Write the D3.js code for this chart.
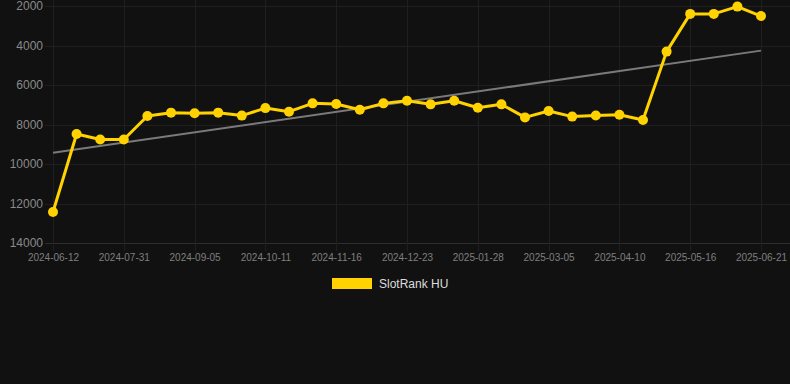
<!DOCTYPE html>
<html lang="en">
    <head>
        <meta charset="utf-8">
        <style>
            html, body {
                margin: 0;
                padding: 0;
                background: #111111;
            }
            svg {
                display: block;
                font-family: Arial, "Liberation Sans", sans-serif;
            }
        </style>
    </head>
    <body>
        <div id="chart"></div>
        <script src="https://d3js.org/d3.v7.min.js"></script>
        <script type="text/javascript" charset="utf-8">
            var dates = ["2024-06-12", "2024-06-28", "2024-07-14", "2024-07-31", "2024-08-12", "2024-08-24",
                "2024-09-05", "2024-09-17", "2024-09-29", "2024-10-11", "2024-10-23", "2024-11-04",
                "2024-11-16", "2024-11-28", "2024-12-11", "2024-12-23", "2025-01-04", "2025-01-16",
                "2025-01-28", "2025-02-09", "2025-02-21", "2025-03-05", "2025-03-17", "2025-03-29",
                "2025-04-10", "2025-04-22", "2025-05-04", "2025-05-16", "2025-05-28", "2025-06-09",
                "2025-06-21"];
            var ranks = [12430, 8480, 8760, 8760, 7570, 7400, 7430, 7400, 7550, 7170,
                7350, 6930, 6960, 7250, 6930, 6800, 6980, 6800, 7150, 6980,
                7640, 7320, 7600, 7540, 7510, 7770, 4310, 2400, 2400, 2030, 2510];
            var trend = [9430, 4260];
            var yTicks = [2000, 4000, 6000, 8000, 10000, 12000, 14000];
            var seriesName = "SlotRank HU";

            var width = 790, height = 384;
            var plotLeft = 53, plotRight = 761, plotTop = 6, plotBottom = 243;

            var svg = d3.select("#chart").append("svg")
                .attr("width", width)
                .attr("height", height);

            var x = d3.scalePoint().domain(dates).range([plotLeft, plotRight]);
            var y = d3.scaleLinear().domain([2000, 14000]).range([plotTop, plotBottom]);

            var shown = dates.filter(function(d, i) { return i % 3 === 0; });

            // grid
            svg.append("g")
                .selectAll("line")
                .data(yTicks).enter()
                .append("line")
                .attr("x1", plotLeft - 8).attr("x2", plotRight + 29)
                .attr("y1", function(d) { return Math.round(y(d)) + 0.5; })
                .attr("y2", function(d) { return Math.round(y(d)) + 0.5; })
                .attr("stroke", function(d) { return d === 14000 ? "#2e2e2e" : "#1f1f1f"; })
                .attr("stroke-width", 1);

            svg.append("g")
                .selectAll("line")
                .data(shown).enter()
                .append("line")
                .attr("x1", function(d) { return Math.round(x(d)) + 0.5; })
                .attr("x2", function(d) { return Math.round(x(d)) + 0.5; })
                .attr("y1", 0).attr("y2", plotBottom + 8)
                .attr("stroke", "#1f1f1f")
                .attr("stroke-width", 1);

            // y axis labels
            var yAxis = svg.append("g")
                .attr("transform", "translate(" + (plotLeft - 10) + ",0)")
                .call(d3.axisLeft(y).tickValues(yTicks).tickSize(0).tickPadding(0).tickFormat(d3.format("d")));
            yAxis.select(".domain").remove();
            yAxis.selectAll("text")
                .attr("fill", "#8a8a8a")
                .attr("font-size", "12px")
                .attr("font-family", "Arial, 'Liberation Sans', sans-serif");

            // x axis labels
            var xAxis = svg.append("g")
                .attr("transform", "translate(0," + (plotBottom + 9) + ")")
                .call(d3.axisBottom(x).tickValues(shown).tickSize(0).tickPadding(2));
            xAxis.select(".domain").remove();
            xAxis.selectAll("text")
                .attr("fill", "#7f7f7f")
                .attr("font-size", "10px")
                .attr("font-family", "Arial, 'Liberation Sans', sans-serif");

            // trend
            svg.append("line")
                .attr("x1", x(dates[0])).attr("y1", y(trend[0]))
                .attr("x2", x(dates[dates.length - 1])).attr("y2", y(trend[1]))
                .attr("stroke", "#7a7a7a")
                .attr("stroke-width", 2);

            // series
            var line = d3.line()
                .x(function(d, i) { return x(dates[i]); })
                .y(function(d) { return y(d); });

            svg.append("path")
                .datum(ranks)
                .attr("d", line)
                .attr("fill", "none")
                .attr("stroke", "#ffd200")
                .attr("stroke-width", 3)
                .attr("stroke-linejoin", "round");

            svg.append("g")
                .selectAll("circle")
                .data(ranks).enter()
                .append("circle")
                .attr("cx", function(d, i) { return x(dates[i]); })
                .attr("cy", function(d) { return y(d); })
                .attr("r", 5)
                .attr("fill", "#ffd200");

            // legend
            var legend = svg.append("g").attr("transform", "translate(332,278)");
            legend.append("rect")
                .attr("width", 40).attr("height", 11)
                .attr("fill", "#ffd200");
            legend.append("text")
                .attr("x", 47).attr("y", 6)
                .attr("dy", "0.35em")
                .attr("fill", "#dddddd")
                .attr("font-size", "12px")
                .text(seriesName);
        </script>
    </body>
</html>
